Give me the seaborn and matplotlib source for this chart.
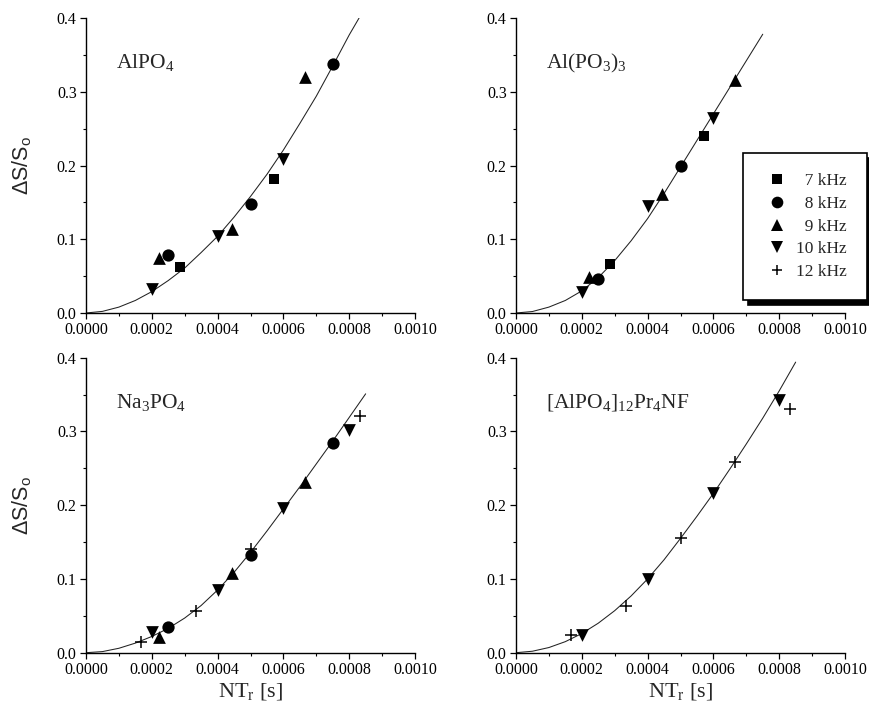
import numpy as np
import pandas as pd
import matplotlib
matplotlib.use("Agg")
import matplotlib.pyplot as plt
import seaborn as sns
from matplotlib.ticker import FixedLocator, FixedFormatter, MultipleLocator
from matplotlib.lines import Line2D

# ---------------- data ----------------
FREQS = ["7 kHz", "8 kHz", "9 kHz", "10 kHz", "12 kHz"]

# AlPO4
ALPO4_NT = [0.000286, 0.000571, 0.00025, 0.0005, 0.00075,
            0.000222, 0.000444, 0.000667, 0.0002, 0.0004, 0.0006]
ALPO4_DS = [0.063, 0.182, 0.078, 0.148, 0.338,
            0.075, 0.114, 0.320, 0.033, 0.104, 0.209]
ALPO4_FREQ = ["7 kHz", "7 kHz", "8 kHz", "8 kHz", "8 kHz",
              "9 kHz", "9 kHz", "9 kHz", "10 kHz", "10 kHz", "10 kHz"]

# Al(PO3)3
ALPO33_NT = [0.000286, 0.000571, 0.00025, 0.0005,
             0.000222, 0.000444, 0.000667, 0.0002, 0.0004, 0.0006]
ALPO33_DS = [0.067, 0.2395, 0.046, 0.200,
             0.049, 0.161, 0.316, 0.028, 0.145, 0.265]
ALPO33_FREQ = ["7 kHz", "7 kHz", "8 kHz", "8 kHz",
               "9 kHz", "9 kHz", "9 kHz", "10 kHz", "10 kHz", "10 kHz"]

# Na3PO4
NA3PO4_NT = [0.00025, 0.0005, 0.00075,
             0.000222, 0.000444, 0.000667,
             0.0002, 0.0004, 0.0006, 0.0008,
             0.000167, 0.000333, 0.0005, 0.000833]
NA3PO4_DS = [0.035, 0.133, 0.284,
             0.021, 0.108, 0.231,
             0.028, 0.085, 0.196, 0.302,
             0.014, 0.0565, 0.140, 0.321]
NA3PO4_FREQ = ["8 kHz"] * 3 + ["9 kHz"] * 3 + ["10 kHz"] * 4 + ["12 kHz"] * 4

# [AlPO4]12Pr4NF
AFI_NT = [0.0002, 0.0004, 0.0006, 0.0008,
          0.000167, 0.000333, 0.0005, 0.000667, 0.000833]
AFI_DS = [0.024, 0.100, 0.216, 0.343,
          0.024, 0.063, 0.155, 0.2585, 0.330]
AFI_FREQ = ["10 kHz"] * 4 + ["12 kHz"] * 5

# fitted curves
CURVE_X = [0.0, 0.00005, 0.0001, 0.00015, 0.0002, 0.00025, 0.0003, 0.00035,
           0.0004, 0.00045, 0.0005, 0.00055, 0.0006, 0.00065, 0.0007,
           0.00075, 0.0008, 0.00085]
ALPO4_CURVE_X = CURVE_X[:17] + [0.00083]
ALPO4_CURVE_Y = [0.0, 0.0022, 0.008, 0.017, 0.029, 0.044, 0.061, 0.082,
                 0.104, 0.130, 0.158, 0.188, 0.221, 0.257, 0.294, 0.335,
                 0.377, 0.400]
ALPO33_CURVE_X = CURVE_X[:16]
ALPO33_CURVE_Y = [0.0, 0.002, 0.008, 0.017, 0.030, 0.048, 0.071, 0.098,
                  0.128, 0.162, 0.198, 0.234, 0.270, 0.306, 0.342, 0.378]
NA3PO4_CURVE_X = CURVE_X
NA3PO4_CURVE_Y = [0.0, 0.0015, 0.006, 0.013, 0.022, 0.033, 0.047, 0.064,
                  0.085, 0.109, 0.136, 0.165, 0.195, 0.225, 0.256, 0.287,
                  0.319, 0.351]
AFI_CURVE_X = CURVE_X
AFI_CURVE_Y = [0.0, 0.002, 0.007, 0.015, 0.026, 0.040, 0.057, 0.077,
               0.100, 0.126, 0.155, 0.185, 0.216, 0.249, 0.283, 0.318,
               0.355, 0.394]

PANEL_TITLES = [r"AlPO$_4$", r"Al(PO$_3$)$_3$", r"Na$_3$PO$_4$",
                r"[AlPO$_4$]$_{12}$Pr$_4$NF"]

X_TICKS = [0.0, 0.0002, 0.0004, 0.0006, 0.0008, 0.0010]
X_TICK_LABELS = ["0.0000", "0.0002", "0.0004", "0.0006", "0.0008", "0.0010"]
Y_TICKS = [0.0, 0.1, 0.2, 0.3, 0.4]
Y_TICK_LABELS = ["0.0", "0.1", "0.2", "0.3", "0.4"]

X_LABEL = r"NT$_\mathrm{r}$ [s]"
Y_LABEL = r"ΔS/S$_\mathsf{o}$"

# ---------------- styling ----------------
sns.set_style("ticks")
plt.rcParams["font.family"] = ["Liberation Serif", "DejaVu Serif"]
plt.rcParams["mathtext.fontset"] = "custom"
plt.rcParams["mathtext.rm"] = "Liberation Serif"
plt.rcParams["mathtext.it"] = "Liberation Serif:italic"
plt.rcParams["mathtext.bf"] = "Liberation Serif:bold"
plt.rcParams["mathtext.sf"] = "Liberation Sans"

MARKERS = {"7 kHz": "s", "8 kHz": "o", "9 kHz": "^", "10 kHz": "v", "12 kHz": "+"}
SIZES = {"7 kHz": 60, "8 kHz": 78, "9 kHz": 84, "10 kHz": 84, "12 kHz": 64}

fig = plt.figure(figsize=(8.69, 7.12), dpi=100)
W, H = 869.0, 712.0
axes_px = [(86, 18), (516, 18), (86, 357.7), (516, 357.7)]  # left, top
aw, ah = 329.0, 295.0
axes = []
for (l, t) in axes_px:
    axes.append(fig.add_axes([l / W, 1 - (t + ah) / H, aw / W, ah / H]))

panels = [
    (ALPO4_NT, ALPO4_DS, ALPO4_FREQ, ALPO4_CURVE_X, ALPO4_CURVE_Y),
    (ALPO33_NT, ALPO33_DS, ALPO33_FREQ, ALPO33_CURVE_X, ALPO33_CURVE_Y),
    (NA3PO4_NT, NA3PO4_DS, NA3PO4_FREQ, NA3PO4_CURVE_X, NA3PO4_CURVE_Y),
    (AFI_NT, AFI_DS, AFI_FREQ, AFI_CURVE_X, AFI_CURVE_Y),
]

for i, (ax, (nt, ds, fr, cx, cy)) in enumerate(zip(axes, panels)):
    df = pd.DataFrame({"nt": nt, "ds": ds, "freq": fr})
    cdf = pd.DataFrame({"nt": cx, "ds": cy})
    sns.lineplot(data=cdf, x="nt", y="ds", ax=ax, color="#222222",
                 linewidth=0.75, sort=False, estimator=None, zorder=2)
    for f in FREQS:
        sub = df[df["freq"] == f]
        if sub.empty:
            continue
        if MARKERS[f] == "+":
            sns.scatterplot(data=sub, x="nt", y="ds", ax=ax, marker="+",
                            s=SIZES[f], color="black", linewidth=1.1,
                            legend=False, zorder=3)
        else:
            sns.scatterplot(data=sub, x="nt", y="ds", ax=ax, marker=MARKERS[f],
                            s=SIZES[f], color="black", edgecolor="black",
                            linewidth=0, legend=False, zorder=3)

    ax.set_xlim(0, 0.001)
    ax.set_ylim(0, 0.4)
    ax.xaxis.set_major_locator(FixedLocator(X_TICKS))
    ax.xaxis.set_major_formatter(FixedFormatter(X_TICK_LABELS))
    ax.yaxis.set_major_locator(FixedLocator(Y_TICKS))
    ax.yaxis.set_major_formatter(FixedFormatter(Y_TICK_LABELS))
    ax.xaxis.set_minor_locator(MultipleLocator(0.0001))
    ax.yaxis.set_minor_locator(MultipleLocator(0.05))
    ax.tick_params(which="major", direction="out", length=4.2, width=0.9,
                   labelsize=11.5, pad=2.5, colors="black")
    ax.tick_params(which="minor", direction="out", length=2.4, width=0.8,
                   colors="black")
    for sp in ("left", "bottom"):
        ax.spines[sp].set_linewidth(1.0)
        ax.spines[sp].set_color("black")
    sns.despine(ax=ax)
    ax.set_facecolor("white")

    ax.text(0.09, 0.83, PANEL_TITLES[i], transform=ax.transAxes,
            fontsize=15.5, ha="left", va="baseline")

    if i >= 2:
        ax.set_xlabel(X_LABEL, fontsize=16)
        ax.xaxis.set_label_coords(0.5, -0.095)
    else:
        ax.set_xlabel("")
    if i % 2 == 0:
        ax.set_ylabel(Y_LABEL, fontsize=15.5, family=["Liberation Sans", "DejaVu Sans"])
        ax.yaxis.set_label_coords(-0.16, 0.5)
    else:
        ax.set_ylabel("")

# legend
FIG_SPACE = "\u2007"
handles, labels = [], []
for f in FREQS:
    m = MARKERS[f]
    ms = {"s": 7.4, "o": 8.4, "^": 8.8, "v": 8.8, "+": 7.7}[m]
    handles.append(Line2D([], [], linestyle="none", marker=m, markersize=ms,
                          color="black", markeredgewidth=0 if m != "+" else 1.1))
    labels.append((FIG_SPACE if len(f.split()[0]) == 1 else "") + f)

leg = axes[1].legend(handles, labels, loc="upper left",
                     bbox_to_anchor=(743 / W, 1 - 153 / H),
                     bbox_transform=fig.transFigure, borderaxespad=0,
                     frameon=True, fancybox=False, framealpha=1,
                     edgecolor="black", facecolor="white",
                     prop={"family": ["Liberation Serif", "DejaVu Serif"], "size": 12.5},
                     borderpad=1.15, handlelength=1.6, handletextpad=0.3,
                     labelspacing=0.38,
                     shadow={"ox": 3.5, "oy": -3.5, "color": "black", "alpha": 1})
leg.get_frame().set_linewidth(1.2)

fig.savefig("out.png", dpi=100, facecolor="white")
